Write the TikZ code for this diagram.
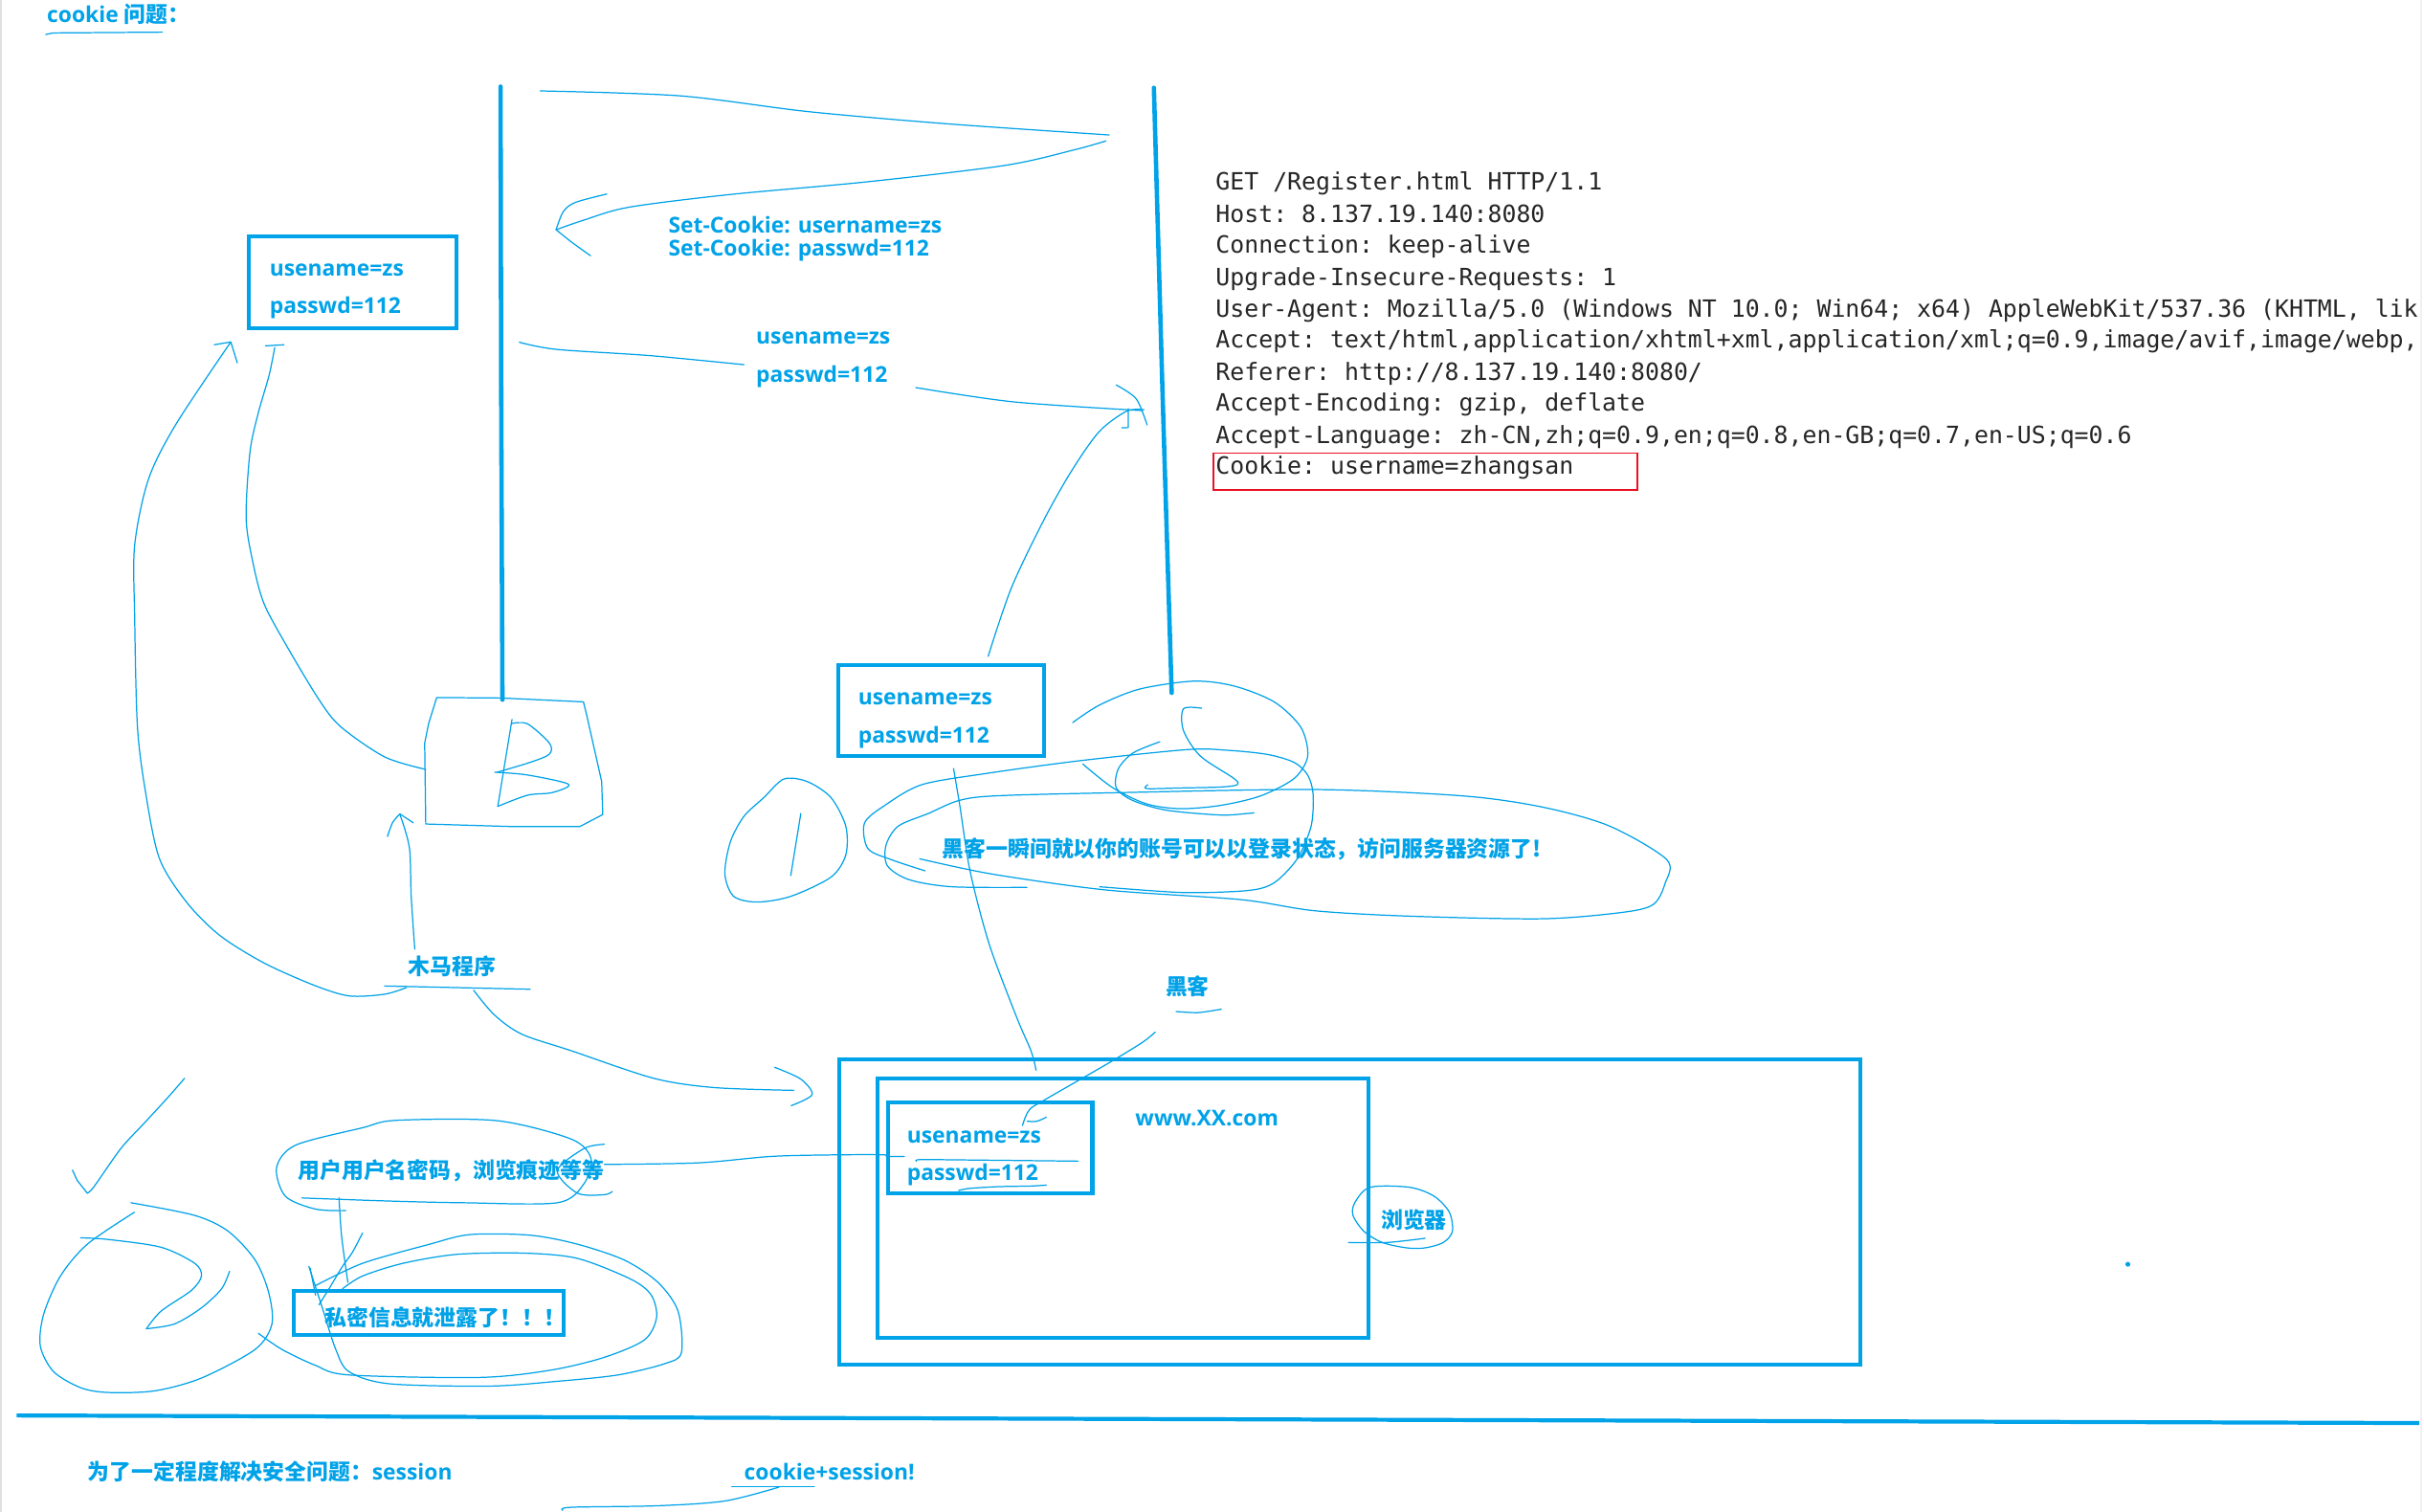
\documentclass[tikz,border=0pt]{standalone}
\usepackage{fontspec}
\setmainfont{Open Sans}
\setmonofont{DejaVu Sans Mono}
\newfontfamily\cjk{Noto Sans CJK SC}
\newcommand\zh[1]{{\cjk\bfseries #1}}
\definecolor{hb}{RGB}{0,162,232}
\definecolor{cred}{RGB}{232,17,35}
\begin{document}
\begin{tikzpicture}[x=0.016154cm,y=-0.016154cm,
  hand/.style={draw=hb,line width=0.35pt,line cap=round,line join=round},
  thickline/.style={draw=hb,line width=1.3pt,line cap=round},
  boxline/.style={draw=hb,line width=1.15pt},
  lbl/.style={font=\bfseries\fontsize{6.5}{7.8}\selectfont,text=hb,inner sep=0pt,anchor=west},
  mono/.style={font=\ttfamily\fontsize{7.07}{9}\selectfont,text=black!85,inner sep=0pt,anchor=base west}]
\useasboundingbox (0,0) rectangle (1568,978);
\fill[white] (0,0) rectangle (1568,978);
\draw[black!12,line width=0.6pt] (0.8,0) -- (0.8,978);
\draw[black!6,line width=0.6pt] (1566,0) -- (1566,978);

% title
\node[lbl] (title) at (30,9.3) {cookie \zh{问题：}};
\draw[hand] (29.6,22.3) -- (34.4,21.3) -- (105,20.8);

% two vertical lines (client / server)
\draw[thickline] (323.8,56) -- (324.2,255) -- (325,452.6);
\draw[thickline] (746.4,56.8) -- (751.8,247.6) -- (753.8,314.5) -- (757.9,448.2);
\coordinate (cl) at (325,452.6);
\coordinate (sv) at (757.9,448.2);

% Set-Cookie response arrow
\draw[hand] plot[smooth] coordinates {(349.5,58.8) (440,62) (522.8,72.2) (611.6,80) (717.5,87.3)};
\draw[hand] plot[smooth] coordinates {(715.3,91.2) (694.6,97) (650,107) (561,117.6) (472.4,125.8) (407,134) (377.6,142.4) (359.7,148.6)};
\draw[hand] plot[smooth] coordinates {(392.5,125.5) (372,131) (364.3,137) (359.7,148.6)};
\draw[hand] plot[smooth] coordinates {(359.7,148.6) (370,156.8) (382,165.4)};
\node[lbl] (sc1) at (432,145.5) {Set-Cookie: username=zs};
\node[lbl] (sc2) at (432,162) {Set-Cookie: passwd=112};

% request arrow
\draw[hand] plot[smooth] coordinates {(336,221.4) (360,226) (420,230) (481.3,235.9)};
\node[lbl] (rq1) at (488.7,218.6) {usename=zs};
\node[lbl] (rq2) at (488.7,243.5) {passwd=112};
\draw[hand] plot[smooth] coordinates {(592.4,250.7) (656,260) (739,265.6)};
\draw[hand] plot[smooth] coordinates {(722,249) (735,258) (742,274.9)};

% HTTP request text
\node[mono] (h1) at (786,123) {GET /Register.html HTTP/1.1};
\node[mono] (h2) at (786,144) {Host: 8.137.19.140:8080};
\node[mono] (h3) at (786,164) {Connection: keep-alive};
\node[mono] (h4) at (786,185) {Upgrade-Insecure-Requests: 1};
\node[mono] (h5) at (786,205) {User-Agent: Mozilla/5.0 (Windows NT 10.0; Win64; x64) AppleWebKit/537.36 (KHTML, lik};
\node[mono] (h6) at (786,225) {Accept: text/html,application/xhtml+xml,application/xml;q=0.9,image/avif,image/webp,};
\node[mono] (h7) at (786,246) {Referer: http://8.137.19.140:8080/};
\node[mono] (h8) at (786,266) {Accept-Encoding: gzip, deflate};
\node[mono] (h9) at (786,287) {Accept-Language: zh-CN,zh;q=0.9,en;q=0.8,en-GB;q=0.7,en-US;q=0.6};
\node[mono] (h10) at (786,307) {Cookie: username=zhangsan};
\draw[cred,line width=0.45pt] (785,293) rectangle (1059,317);

% client cookie box
\draw[boxline] (161,152.8) rectangle (295,212.3);
\node[lbl] (cb1) at (174,175) {usename=zs};
\node[lbl] (cb2) at (174,199) {passwd=112};

% box B (client machine)
\draw[hand] (282.5,451.2) -- (324,451.5) -- (377.4,454) -- (379.6,463) -- (389.2,505.6) -- (389.9,526.9) -- (375,534.7) -- (332.3,534.7) -- (275.4,533) -- (274.7,480.7) -- (277.2,468.2) -- cycle;
\draw[hand] (331.2,465.4) -- (322,521.6);
\draw[hand] plot[smooth] coordinates {(331.2,468) (341.2,468.2) (355.4,480.7) (355.4,487.8) (343,493.1) (321.6,499.5)};
\draw[hand] plot[smooth] coordinates {(320,499.5) (341.2,501.3) (367.8,507.3) (357.2,512.7) (341.2,514.4) (322,521.6)};

% curves to the client cookie box
\draw[hand] plot[smooth] coordinates {(263,638.8) (248.8,643.1) (225.7,644.2) (202.6,637.1) (170.6,622.8) (142.2,605.1) (120.8,583.7) (103.1,555.3) (94.2,512.7) (88.9,470) (87.1,398.9) (87.1,352.7) (96,310.1) (113.7,274.6) (149.3,221.2)};
\draw[hand] (138.6,223) -- (149.3,221.2) -- (153.5,234.7);
\draw[hand] plot[smooth] coordinates {(275.4,497.7) (248.8,489.6) (220.3,470) (206.1,452.2) (184.8,416.7) (170.6,390) (163.5,363.4) (159.2,335) (161.7,292.3) (167,267.4) (174.1,242.6) (177.7,224.8)};
\draw[hand] (171.7,223.7) -- (183.7,223);

% trojan
\node[lbl] (trojan) at (263.7,625.3) {\zh{木马程序}};
\draw[hand] (248.8,637.8) -- (343,639.9);
\draw[hand] plot[smooth] coordinates {(268.3,614) (266,580) (264.8,548.2) (258.7,526.9)};
\draw[hand] plot[smooth] coordinates {(250.6,541.1) (254,532) (258.7,526.5)};
\draw[hand] (258.7,526.5) -- (267.3,532.2);
\draw[hand] plot[smooth] coordinates {(306.4,640.6) (319.9,656.6) (337.6,669) (369.6,679.7) (422.9,697.5) (462,703.5) (513.6,705.3)};
\draw[hand] plot[smooth] coordinates {(501.1,690.4) (518,698) (525.3,708.1) (511.8,715.2)};

% left scribbles
\draw[hand] plot[smooth] coordinates {(119.4,697.5) (108.6,709.9) (93.4,726.4) (78.2,742.9) (60.8,767.6) (56.5,771.8)};
\draw[hand] (56.5,771.8) -- (49.9,763.5) -- (46.9,756.9);
\draw[hand] plot[smooth] coordinates {(84.7,778) (126,786.2) (147.7,796.5) (165,815) (173.7,835.7) (175.9,856.4) (165,872.9) (130.3,891.4) (99.9,899.7) (69.5,900.7) (52.1,897.6) (34.7,887.3) (26.1,870.8) (28.2,850.2) (39.1,825.4) (56.5,804.8) (86.9,784.2)};
\draw[hand] plot[smooth] coordinates {(52.1,800.7) (69.5,801.7) (104.2,806.8) (126,817.2) (130.3,825.4) (123.8,834.7) (104.2,848.1) (94.7,859.5)};
\draw[hand] plot[smooth] coordinates {(94.7,859.5) (112.9,856.4) (130.3,846) (143.3,833.7) (148.5,822.3)};

% user data ellipse
\node[lbl] (ud) at (192.4,757.3) {\zh{用户用户名密码，浏览痕迹等等}};
\draw[hand] plot[smooth] coordinates {(195.4,774.9) (251.9,776.9) (299.7,778) (360.5,778) (377.8,765.6) (382.2,749.1) (369.2,736.7) (321.4,724.9) (256.2,724.7) (234.5,729.5) (191.1,740.8) (178.9,755.3) (184.6,773.8) (204.1,782.1) (223.7,783.1)};
\draw[hand] plot[smooth] coordinates {(390.9,740.2) (377.8,742.9) (360.5,757.3) (373.5,771.8) (390.9,772.8) (396.1,770.7)};
\draw[hand] plot[smooth] coordinates {(390.9,753.2) (451.7,752.2) (499.4,748) (542.9,747) (571.6,747) (573.7,748) (585,748)};

% leak box
\draw[boxline] (190.2,835.3) rectangle (364.8,863.6);
\node[lbl] (leak) at (209.8,852.2) {\zh{私密信息就泄露了！！！}};
\draw[hand] plot[smooth] coordinates {(219.3,774.9) (221,800) (225,829.5)};
\draw[hand] plot[smooth] coordinates {(234.5,797.6) (228,810) (221.5,819.2) (212.8,833.7) (206.3,844)};
\draw[hand] (200.6,820.3) -- (204.1,837.8);
\draw[hand] plot[smooth] coordinates {(167.2,862.5) (182.4,872.9) (204.1,883.2) (225.8,889.4) (310.5,891) (356.1,886.3) (390.9,878) (416.9,866.7) (424.7,852.2) (421.3,837.8) (408.2,827.5) (373.5,814) (338.8,810.6) (295.3,811.4) (260.6,817.2) (234.5,825.4) (221.5,833.7)};
\draw[hand] plot[smooth] coordinates {(204.1,831.6) (234.5,817.2) (278,804.8) (304,798.6) (343,799) (373.5,804.8) (403.9,815.1) (425.6,829.5) (438.6,848.1) (440.8,874.9) (430,882.1) (399.6,889.4) (360.5,893.5) (317,896.6) (251.9,895.1) (225.8,887.3) (217.2,872.9) (208.5,846) (199.8,819.2)};

% hacker cookie box
\draw[boxline] (542.2,430.2) rectangle (675.4,489.2);
\node[lbl] (hk1) at (554.7,452.3) {usename=zs};
\node[lbl] (hk2) at (554.7,477.2) {passwd=112};
\draw[hand] plot[smooth] coordinates {(639.2,424.5) (654.2,380.3) (675.4,336) (693.2,304.5) (711,279.2) (728.7,266) (740,265)};
\draw[hand] (729.8,264.3) -- (729.8,276.6) -- (725.6,276.7);
\draw[hand] plot[smooth] coordinates {(616.8,497.1) (621,522) (627.5,563.5) (639.9,610.8) (657.7,658.2) (667,680) (670.2,692.3)};

% small ellipse
\draw[hand] plot[smooth cycle] coordinates {(507.1,503.9) (522.3,505.6) (537.5,515.9) (547.1,534.4) (547.1,553) (537.5,567.4) (511.5,579.8) (489.8,583.5) (474.6,579.8) (468.9,565.4) (472.4,544.7) (481.1,528.2) (494.1,515.9)};
\draw[hand] (518,526.2) -- (511.5,566.4);

% circles near server bottom
\draw[hand] plot[smooth] coordinates {(693.9,467.4) (711.3,456) (737.3,445.7) (772.1,440.6) (798.1,443.7) (824.2,454) (841.5,470.5) (845.9,489.1) (837.2,503.5) (815.5,514.8) (789.4,521) (763.4,523.1) (741.7,520) (720,509.7) (700.4,494.2)};
\draw[hand] plot[smooth] coordinates {(777.3,458.1) (765.5,458.5) (765.5,472.5) (776.4,489) (798.1,503.5) (800.3,507.6) (789.4,509.1) (763.4,509.7) (741.7,510.1) (742.5,507.6)};
\draw[hand] plot[smooth] coordinates {(750.3,479.8) (733,487) (723.4,497.3) (722.1,509.7) (733,517.9) (754.7,524.1) (789.4,527.2) (806.8,526.2) (811.1,525.8)};
\draw[hand] plot[smooth] coordinates {(598.4,563.3) (576.6,556.1) (561.4,548.9) (559.2,532.4) (572.3,521) (596.2,507.6) (637.4,500.4) (698.2,492.1) (767.7,484.9) (793.8,485.3) (819.8,488) (837.2,493.2) (845.9,501.4) (849.4,513.8) (848.1,534.4) (839.4,555.1) (826.3,569.5) (815.5,574.7) (798.1,576.7) (763.4,577.3) (711.3,573.6)};
\draw[hand] plot[smooth] coordinates {(594.9,555.5) (641.8,565.4) (715.6,575.7) (802.4,581.9) (850.2,589.1) (911,592.6) (997.9,594.3) (1050,590.1) (1069.5,585) (1077,571.6) (1078.2,556.1) (1041.3,534.4) (997.9,522.1) (945.8,514.8) (850.2,510.7) (720,512.8) (643.9,514.8) (620,517.9) (600.5,526.2) (581,534.4) (573.1,546.8) (574,560) (588,569) (615.7,573.6) (664.3,574)};
\node[lbl] (hackmsg) at (609.2,549.3) {\zh{黑客一瞬间就以你的账号可以以登录状态，访问服务器资源了!}};

% hacker label
\node[lbl] (hacker) at (753.6,638.2) {\zh{黑客}};
\draw[hand] plot[smooth] coordinates {(760.7,654.3) (775,655) (790,652.8)};
\draw[hand] plot[smooth] coordinates {(747.2,667.7) (739.4,674) (721.6,685) (703.7,695.4) (689.2,703.7) (674.8,712) (666.5,717.1) (663.4,722.3) (661.4,728)};
\draw[hand] plot[smooth] coordinates {(664.5,725.3) (670.7,725.3) (676.8,722.7)};

% browser
\draw[boxline] (542.8,685.5) rectangle (1203.5,882.8);
\draw[boxline] (567.6,697.5) rectangle (885,865.5);
\draw[boxline] (574.5,713.3) rectangle (706.6,771.7);
\node[lbl] (bw1) at (586.3,735.7) {usename=zs};
\node[lbl] (bw2) at (586.3,759.8) {passwd=112};
\draw[hand] plot[smooth] coordinates {(592.7,751.1) (595.3,750.1) (623.2,750.3) (697.5,751.1)};
\draw[hand] plot[smooth] coordinates {(620.1,770.1) (627.3,768.7) (645.9,767.6) (666.5,767.2) (676.8,766.6)};
\node[lbl] (site) at (734,723.3) {www.XX.com};
\node[lbl] (browser) at (893,789.3) {\zh{浏览器}};
\draw[hand] plot[smooth cycle] coordinates {(886.2,768) (911.9,768) (927.7,773.8) (937.5,784.1) (939.5,796.5) (933.6,803.7) (921.8,807.2) (910,807.2) (894.1,803.7) (882.3,796.5) (875.2,786.2) (876.4,777.9)};
\draw[hand] plot[smooth] coordinates {(872.3,803.7) (897.2,803.7) (921.8,801)};
\fill[hb] (1376.4,817.8) circle (1.6);

% bottom separator and conclusion
\draw[draw=hb,line width=1.2pt] (10.8,915.6) -- (1565,920.5);
\node[lbl] (sess) at (56.5,951.9) {\zh{为了一定程度解决安全问题：}session};
\node[lbl] (cs) at (481,952) {cookie+session!};
\draw[hand] (473.4,961.6) -- (526.8,961.6);
\draw[hand] plot[smooth] coordinates {(503.8,962) (469,970.9) (425.6,974) (369.2,975) (364,977)};
\end{tikzpicture}
\end{document}
